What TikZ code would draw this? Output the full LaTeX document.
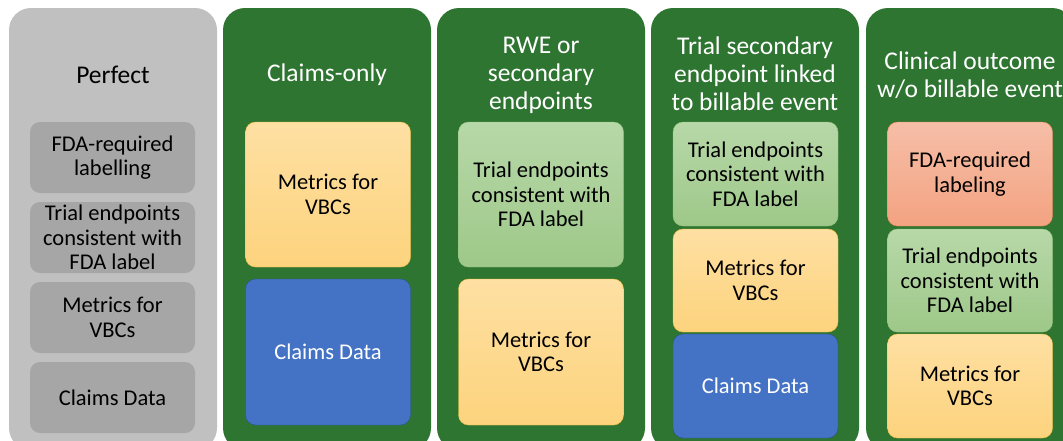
\documentclass[tikz,border=0pt]{standalone}
\usepackage{fontspec}
\setmainfont{Carlito}
\usetikzlibrary{positioning}
\definecolor{panelgreen}{RGB}{47,117,50}
\definecolor{panelgrey}{RGB}{192,192,192}
\definecolor{boxgrey}{RGB}{166,166,166}
\definecolor{ytop}{RGB}{254,224,163}
\definecolor{ybot}{RGB}{253,211,125}
\definecolor{yline}{RGB}{240,190,60}
\definecolor{gtop}{RGB}{183,216,168}
\definecolor{gbot}{RGB}{158,200,137}
\definecolor{gline}{RGB}{150,195,125}
\definecolor{rtop}{RGB}{246,190,168}
\definecolor{rbot}{RGB}{243,163,129}
\definecolor{rline}{RGB}{235,130,85}
\definecolor{bfill}{RGB}{68,114,196}
\definecolor{bline}{RGB}{47,82,143}
\tikzset{
	panel/.style={rounded corners=22pt,minimum width=208pt,minimum height=442pt,inner sep=0pt},
	greypanel/.style={panel,fill=panelgrey},
	greenpanel/.style={panel,fill=panelgreen},
	ptitle/.style={font=\fontsize{25.5}{28}\selectfont,align=center,text=white},
	box/.style={rounded corners=10pt,minimum width=165pt,align=center,inner sep=2pt,font=\fontsize{22.5}{24.5}\selectfont},
	greybox/.style={box,fill=boxgrey},
	metricbox/.style={box,draw=yline,top color=ytop,bottom color=ybot},
	trialbox/.style={box,draw=gline,top color=gtop,bottom color=gbot},
	labelbox/.style={box,draw=rline,top color=rtop,bottom color=rbot},
	claimbox/.style={box,draw=bline,fill=bfill,text=white}
}
\begin{document}
\begin{tikzpicture}[x=1pt,y=-1pt]
		\useasboundingbox (0,0) rectangle (1063,440);
		\clip (0,0) rectangle (1063,440);
		%%%panels
		\node[greypanel] (p1) at (113,229) {};
		\node[greenpanel] (p2) at (327,229) {};
		\node[greenpanel] (p3) at (541,229) {};
		\node[greenpanel] (p4) at (755,229) {};
		\node[greenpanel] (p5) at (970,229) {};
		%%%Perfect
		\node[ptitle,text=black] (t1) at (113,75) {Perfect};
		\node[greybox,minimum height=71pt] (fda1) at (112.5,157.5) {FDA-required\\labelling};
		\node[greybox,minimum height=71pt] (trial1) at (112.5,237.5) {Trial endpoints\\consistent with\\FDA label};
		\node[greybox,minimum height=71pt] (metric1) at (112.5,317.5) {Metrics for\\VBCs};
		\node[greybox,minimum height=71pt] (claim1) at (112.5,397.5) {Claims Data};
		%%%Claims-only
		\node[ptitle] (t2) at (327,75) {Claims-only};
		\node[metricbox,minimum height=145pt] (metric2) at (328,194.5) {Metrics for\\VBCs};
		\node[claimbox,minimum height=146pt] (claim2) at (328,352) {Claims Data};
		%%%RWE
		\node[ptitle] (t3) at (541,75) {RWE or\\secondary\\endpoints};
		\node[trialbox,minimum height=145pt] (trial3) at (541,194.5) {Trial endpoints\\consistent with\\FDA label};
		\node[metricbox,minimum height=146pt] (metric3) at (541,352) {Metrics for\\VBCs};
		%%%secondary endpoint
		\node[ptitle] (t4) at (755,74) {Trial secondary\\endpoint linked\\to billable event};
		\node[trialbox,minimum height=104pt] (trial4) at (755.5,174) {Trial endpoints\\consistent with\\FDA label};
		\node[metricbox,minimum height=103pt] (metric4) at (755.5,280.5) {Metrics for\\VBCs};
		\node[claimbox,minimum height=104pt] (claim4) at (755.5,386) {Claims Data};
		%%%clinical outcome
		\node[ptitle] (t5) at (970,75) {Clinical outcome\\w/o billable event};
		\node[labelbox,minimum height=104pt] (fda5) at (970,174) {FDA-required\\labeling};
		\node[trialbox,minimum height=103pt] (trial5) at (970,280.5) {Trial endpoints\\consistent with\\FDA label};
		\node[metricbox,minimum height=104pt] (metric5) at (970,386) {Metrics for\\VBCs};
	\end{tikzpicture}
\end{document}
